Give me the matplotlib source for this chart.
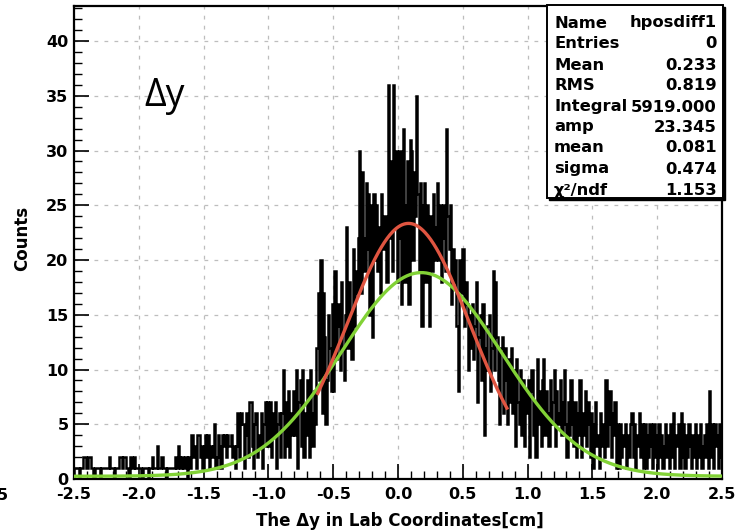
import matplotlib
matplotlib.use('Agg')
import matplotlib.pyplot as plt
from matplotlib.patches import Rectangle
from matplotlib.ticker import MultipleLocator
import numpy as np

#----------------------------------------------------------
# DATA (0.01 cm bins from -2.5 to 2.5, one row per 0.1 cm)
#----------------------------------------------------------
x_lo, x_hi = -2.5, 2.5
counts = [
    1, 1, 1, 1, 0, 1, 1, 2, 2, 1,
    1, 2, 2, 1, 1, 0, 1, 1, 1, 1,
    0, 1, 1, 1, 1, 1, 1, 2, 1, 1,
    1, 0, 1, 1, 1, 2, 2, 1, 2, 2,
    1, 1, 0, 2, 2, 1, 2, 1, 1, 1,
    1, 1, 0, 1, 1, 1, 1, 0, 1, 1,
    2, 1, 1, 1, 3, 1, 1, 2, 2, 1,
    1, 0, 1, 1, 1, 1, 1, 1, 2, 1,
    3, 2, 1, 2, 1, 1, 2, 0, 2, 1,
    4, 4, 2, 3, 1, 4, 4, 2, 3, 1,
    3, 4, 2, 4, 1, 3, 2, 3, 5, 1,
    2, 4, 3, 1, 4, 3, 4, 2, 4, 3,
    3, 4, 2, 3, 1, 3, 6, 2, 5, 6,
    5, 1, 4, 6, 2, 7, 7, 3, 1, 5,
    6, 2, 4, 3, 6, 1, 5, 7, 3, 7,
    3, 7, 2, 6, 4, 7, 1, 5, 6, 2,
    6, 10, 2, 7, 3, 8, 2, 6, 4, 8,
    4, 10, 1, 7, 9, 3, 10, 2, 6, 4,
    9, 2, 10, 6, 3, 8, 5, 12, 17, 9,
    20, 6, 17, 13, 5, 9, 15, 12, 8, 16,
    8, 19, 11, 14, 16, 10, 18, 12, 9, 15,
    23, 12, 18, 15, 11, 21, 14, 19, 17, 22,
    30, 17, 28, 22, 19, 27, 21, 26, 15, 25,
    13, 26, 20, 25, 19, 23, 17, 26, 21, 24,
    24, 18, 36, 22, 29, 19, 36, 23, 30, 18,
    22, 30, 16, 27, 32, 18, 25, 29, 16, 31,
    30, 20, 28, 24, 35, 26, 19, 27, 14, 25,
    27, 18, 25, 21, 14, 24, 19, 26, 20, 23,
    27, 20, 25, 18, 22, 25, 19, 32, 24, 21,
    25, 16, 21, 18, 20, 14, 8, 20, 17, 21,
    21, 14, 18, 16, 10, 15, 12, 16, 11, 14,
    18, 7, 13, 15, 9, 16, 4, 12, 10, 14,
    15, 8, 12, 19, 10, 18, 13, 9, 5, 12,
    13, 6, 12, 9, 5, 11, 7, 12, 6, 10,
    3, 11, 7, 5, 10, 4, 9, 3, 8, 6,
    9, 2, 8, 10, 4, 7, 2, 11, 5, 8,
    3, 9, 11, 4, 8, 6, 3, 9, 5, 7,
    10, 3, 8, 5, 6, 9, 4, 7, 10, 5,
    2, 7, 4, 9, 5, 3, 7, 2, 6, 4,
    9, 2, 6, 4, 8, 3, 7, 5, 2, 6,
    1, 5, 7, 3, 4, 1, 6, 3, 5, 2,
    9, 3, 5, 8, 2, 6, 4, 7, 1, 5,
    1, 5, 2, 4, 3, 5, 1, 4, 2, 5,
    6, 2, 5, 1, 4, 3, 6, 2, 5, 1,
    5, 1, 4, 2, 5, 3, 1, 5, 2, 4,
    1, 5, 2, 4, 1, 3, 5, 2, 4, 1,
    5, 2, 6, 1, 4, 3, 5, 1, 6, 2,
    5, 1, 4, 2, 5, 3, 1, 4, 2, 5,
    1, 4, 2, 5, 1, 3, 4, 2, 5, 1,
    8, 2, 5, 1, 5, 3, 4, 1, 5, 2,
]

# fit results (red = gaus fit shown in stats box, green = wider gaussian)
red_amp, red_mean, red_sigma = 23.345, 0.081, 0.474
red_range = (-0.62, 0.84)
green_amp, green_mean, green_sigma, green_const = 18.6, 0.18, 0.62, 0.25

stats_names = ["Name", "Entries", "Mean", "RMS", "Integral", "amp", "mean", "sigma", "χ²/ndf"]
stats_values = ["hposdiff1", "0", "0.233", "0.819", "5919.000", "23.345", "0.081", "0.474", "1.153"]

#----------------------------------------------------------
# FIGURE
#----------------------------------------------------------
W, H = 736, 532
fig = plt.figure(figsize=(W / 100, H / 100), dpi=100)
ax = fig.add_axes([74 / W, 1 - 479 / H, (722 - 74) / W, (479 - 6) / H])

edges = np.linspace(x_lo, x_hi, len(counts) + 1)
ax.stairs(counts, edges, color='black', lw=1.8, baseline=0, zorder=3)

xr = np.linspace(red_range[0], red_range[1], 200)
ax.plot(xr, red_amp * np.exp(-0.5 * ((xr - red_mean) / red_sigma) ** 2),
        color='#e05541', lw=2.4, zorder=5)
xg = np.linspace(x_lo, x_hi, 400)
ax.plot(xg, green_const + green_amp * np.exp(-0.5 * ((xg - green_mean) / green_sigma) ** 2),
        color='#82d236', lw=2.4, zorder=4)

ax.set_xlim(x_lo, x_hi)
ax.set_ylim(0, 43.2)
ax.xaxis.set_minor_locator(MultipleLocator(0.1))
ax.yaxis.set_major_locator(MultipleLocator(5))
ax.yaxis.set_minor_locator(MultipleLocator(1))
ax.tick_params(which='major', direction='in', length=11, width=1.2, labelsize=11.5, pad=4)
ax.tick_params(which='minor', direction='in', length=6, width=1.0)
ax.tick_params(axis='x', which='major', pad=6)
ax.set_xticks(np.arange(-2.5, 2.51, 0.5))
ax.set_xticklabels([f"{v:.1f}" for v in np.arange(-2.5, 2.51, 0.5)], fontweight='bold')
for lab in ax.get_yticklabels():
    lab.set_fontweight('bold')
for s in ax.spines.values():
    s.set_linewidth(1.6)
ax.grid(True, which='major', color='#bdbdbd', ls=(0, (3, 5)), lw=0.9, zorder=0)

fig.text(400 / W, 1 - 521 / H, "The Δy in Lab Coordinates[cm]", ha='center', va='center',
         fontsize=12, fontweight='bold')
fig.text(22 / W, 1 - 238 / H, "Counts", ha='center', va='center', rotation=90,
         fontsize=12, fontweight='bold')
fig.text(8 / W, 1 - 495 / H, "5", ha='right', va='center', fontsize=11.5, fontweight='bold')

# big label
ax.text(-1.8, 35.0, "Δy", fontsize=27, family='Open Sans', ha='center', va='center', zorder=6)

# stats box
bx0, by0, bx1, by1 = 547, 5, 723, 198
shadow = Rectangle((bx0 / W + 2 / W, 1 - by1 / H - 2 / H), (bx1 - bx0) / W, (by1 - by0) / H,
                   transform=fig.transFigure, facecolor='black', edgecolor='black', zorder=8)
box = Rectangle((bx0 / W, 1 - by1 / H), (bx1 - bx0) / W, (by1 - by0) / H,
                transform=fig.transFigure, facecolor='white', edgecolor='black', lw=1.4, zorder=9)
fig.patches.extend([shadow, box])
rows_y = [23, 44, 65, 86, 107, 127, 148, 169, 190]
for name, val, py in zip(stats_names, stats_values, rows_y):
    fig.text(554 / W, 1 - py / H, name, ha='left', va='center', fontsize=11.8, fontweight='bold', zorder=10)
    fig.text(717 / W, 1 - py / H, val, ha='right', va='center', fontsize=11.8, fontweight='bold', zorder=10)

fig.savefig('out.png', dpi=100)
